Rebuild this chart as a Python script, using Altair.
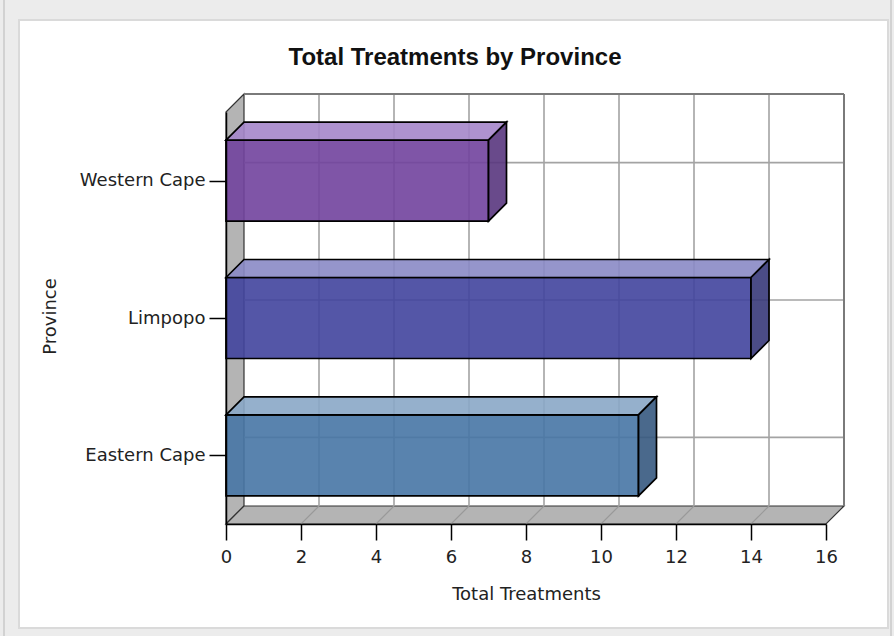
import altair as alt
import pandas as pd

# ---------------- data ----------------
provinces = ["Eastern Cape", "Limpopo", "Western Cape"]
treatments = [11, 14, 7]
x_ticks = [0, 2, 4, 6, 8, 10, 12, 14, 16]

title_text = "Total Treatments by Province"
x_title = "Total Treatments"
y_title = "Province"

# ---------------- styles ----------------
front_colors = ["#4775a5", "#41449d", "#71429d"]
top_colors = ["#89a7c6", "#898ac5", "#a586ca"]
side_colors = ["#36597f", "#373879", "#59367e"]
FONT = "DejaVu Sans, Verdana, sans-serif"
TFONT = "Liberation Sans, Arial, sans-serif"

W, H = 600, 412          # front plane of the plot
LEFT, TOP = 226, 112     # padding placing the plot
XMAX = x_ticks[-1]
NCAT = len(provinces)
DEPTH = 18               # 3D depth in pixels
DX = DEPTH * XMAX / W
DY = DEPTH * NCAT / H
HALF = 40.5 * NCAT / H   # half bar thickness in category units

# ---------------- derived tables ----------------
front = pd.DataFrame({
    "province": provinces,
    "x": [0] * NCAT,
    "x2": treatments,
    "y": [i + 0.5 - HALF for i in range(NCAT)],
    "y2": [i + 0.5 + HALF for i in range(NCAT)],
})

top_rows, side_rows = [], []
for i, (p, v) in enumerate(zip(provinces, treatments)):
    yt, yb = i + 0.5 + HALF, i + 0.5 - HALF
    top_rows += [
        {"province": p, "x": 0, "y": yt, "y2": yt},
        {"province": p, "x": DX, "y": yt + DY, "y2": yt},
        {"province": p, "x": v, "y": yt + DY, "y2": yt},
        {"province": p, "x": v + DX, "y": yt + DY, "y2": yt + DY},
    ]
    side_rows += [
        {"province": p, "x": v, "y": yt, "y2": yb},
        {"province": p, "x": v + DX, "y": yt + DY, "y2": yb + DY},
    ]
top = pd.DataFrame(top_rows)
side = pd.DataFrame(side_rows)

wall = pd.DataFrame({"x": [0, DX], "y": [NCAT, NCAT + DY], "y2": [0, DY]})
floor = pd.DataFrame({"x": [0, DX, XMAX, XMAX + DX],
                      "y": [0, DY, DY, DY], "y2": [0, 0, 0, DY]})
inner = x_ticks[1:-1]
floor_lines = pd.DataFrame({"x": inner, "x2": [t + DX for t in inner],
                            "y": [0] * len(inner), "y2": [DY] * len(inner)})
back_v = pd.DataFrame({"x": [t + DX for t in inner],
                       "y": [DY] * len(inner), "y2": [NCAT + DY] * len(inner)})
back_h = pd.DataFrame({"x": [DX] * NCAT, "x2": [XMAX + DX] * NCAT,
                       "y": [i + 0.5 + DY for i in range(NCAT)]})
back_border = pd.DataFrame({"x": [DX, XMAX + DX], "x2": [XMAX + DX, XMAX + DX],
                            "y": [NCAT + DY, DY], "y2": [NCAT + DY, NCAT + DY]})
one = pd.DataFrame({"k": [0]})

# ---------------- scales / axes ----------------
xscale = alt.Scale(domain=[0, XMAX], nice=False, zero=False)
yscale = alt.Scale(domain=[0, NCAT], nice=False, zero=False)
label_expr = "[" + ",".join("'" + p + "'" for p in provinces) + "][floor(datum.value)]"

xaxis = alt.Axis(values=x_ticks, title=x_title, grid=False, zindex=1,
                 domainColor="#000", domainWidth=1.5, tickColor="#000", tickWidth=1.5,
                 tickSize=16, labelFont=FONT, labelFontSize=18, labelColor="#222",
                 labelPadding=8, labelFlush=False, labelOverlap=False,
                 titleFont=FONT, titleFontSize=18, titleFontWeight="normal",
                 titleColor="#222", titleX=W / 2, titleY=70, titleBaseline="middle")
yaxis = alt.Axis(values=[i + 0.5 for i in range(NCAT)], labelExpr=label_expr,
                 title=y_title, grid=False, zindex=1,
                 domainColor="#000", domainWidth=1.5, tickColor="#000", tickWidth=1.5,
                 tickSize=17, labelFont=FONT, labelFontSize=18, labelColor="#222",
                 labelPadding=4, titleFont=FONT, titleFontSize=18,
                 titleFontWeight="normal", titleColor="#222", titleAngle=270,
                 titleX=50 - LEFT, titleY=316 - TOP, titleBaseline="middle",
                 titleAlign="center")


def X(f="x"):
    return alt.X(f + ":Q", scale=xscale, axis=xaxis)


def Y(f="y"):
    return alt.Y(f + ":Q", scale=yscale, axis=yaxis, stack=None)


# ---------------- layers ----------------
outer = alt.Chart(one).mark_rect(fill="#ececec", stroke="#d2d2d2", strokeWidth=2).encode(
    x=alt.value(4 - LEFT), x2=alt.value(891 - LEFT),
    y=alt.value(-TOP - 10), y2=alt.value(636 - TOP + 10))
panel = alt.Chart(one).mark_rect(fill="white", stroke="#dadada", strokeWidth=2).encode(
    x=alt.value(19 - LEFT), x2=alt.value(888 - LEFT),
    y=alt.value(20 - TOP), y2=alt.value(628 - TOP))
title = alt.Chart(pd.DataFrame({"t": [title_text]})).mark_text(
    font=TFONT, fontSize=24, fontWeight="bold", color="#111", baseline="middle",
    align="center").encode(x=alt.value(455 - LEFT), y=alt.value(58 - TOP), text="t:N")

wall_l = alt.Chart(wall).mark_area(orient="vertical", fill="#b4b4b4", stroke="#333",
                                   strokeWidth=1.2).encode(x=X(), y=Y(), y2="y2:Q")
floor_l = alt.Chart(floor).mark_area(orient="vertical", fill="#b4b4b4", stroke="#333",
                                     strokeWidth=1.2).encode(x=X(), y=Y(), y2="y2:Q")
floor_ln = alt.Chart(floor_lines).mark_rule(color="#999", strokeWidth=1.2).encode(
    x=X(), x2="x2:Q", y=Y(), y2="y2:Q")
back_vl = alt.Chart(back_v).mark_rule(color="#a3a3a3", strokeWidth=1.6).encode(
    x=X(), y=Y(), y2="y2:Q")
back_hl = alt.Chart(back_h).mark_rule(color="#a3a3a3", strokeWidth=1.6).encode(
    x=X(), x2="x2:Q", y=Y())
back_bd = alt.Chart(back_border).mark_rule(color="#7a7a7a", strokeWidth=2).encode(
    x=X(), x2="x2:Q", y=Y(), y2="y2:Q")

front_l = alt.Chart(front).mark_rect(stroke="#000", strokeWidth=1.7, fillOpacity=0.9).encode(
    x=X(), x2="x2:Q", y=Y(), y2="y2:Q",
    fill=alt.Fill("province:N", scale=alt.Scale(domain=provinces, range=front_colors),
                  legend=None))
top_l = alt.Chart(top).mark_area(orient="vertical", stroke="#000", strokeWidth=1.7,
                                 fillOpacity=0.9).encode(
    x=X(), y=Y(), y2="y2:Q",
    fill=alt.Fill("province:N", scale=alt.Scale(domain=provinces, range=top_colors),
                  legend=None))
side_l = alt.Chart(side).mark_area(orient="vertical", stroke="#000", strokeWidth=1.7,
                                   fillOpacity=0.9).encode(
    x=X(), y=Y(), y2="y2:Q",
    fill=alt.Fill("province:N", scale=alt.Scale(domain=provinces, range=side_colors),
                  legend=None))

chart = alt.layer(
    outer, panel, title, wall_l, floor_l, floor_ln, back_vl, back_hl, back_bd,
    front_l, top_l, side_l
).resolve_scale(fill="independent").properties(
    width=W, height=H,
    autosize=alt.AutoSizeParams(type="none"),
    padding={"left": LEFT, "top": TOP, "right": 894 - LEFT - W, "bottom": 636 - TOP - H},
    background="#ececec",
).configure_view(stroke=None)

chart.save("out.html", embed_options={"renderer": "svg", "actions": False})
